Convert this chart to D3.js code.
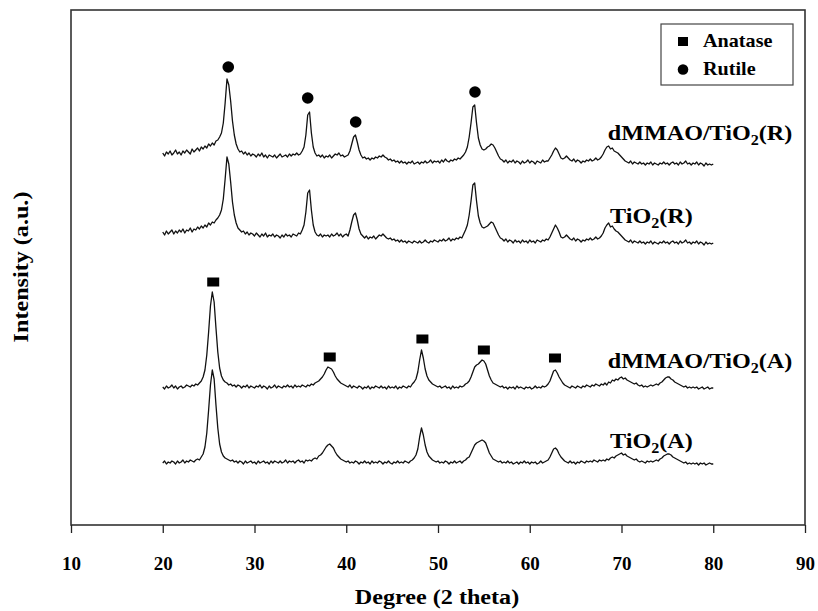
<!DOCTYPE html>
<html><head><meta charset="utf-8">
<script src="https://cdn.jsdelivr.net/npm/d3@7"></script>
<style>
body{margin:0;background:#fff}
svg{display:block}
text{font-family:"Liberation Serif","Times New Roman",serif;font-weight:bold;fill:#000}
</style>
</head><body>
<svg id="chart" width="818" height="611"></svg>
<script>
// ---- data ----
const scanStart = 20;      // 2 theta of first point
const scanStep = 0.2;      // 2 theta step
const xTicks = [10, 20, 30, 40, 50, 60, 70, 80, 90];
const seriesNames = ["TiO2(A)", "dMMAO/TiO2(A)", "TiO2(R)", "dMMAO/TiO2(R)"];
const seriesOffsets = [40, 115, 260, 340];

const tio2A = [
22,24,21,23,22,24,23,21,24,22,
23,25,22,24,23,25,24,23,25,26,
25,28,31,38,52,75,100,115,106,80,
57,41,33,29,27,26,25,24,25,23,
24,22,24,23,21,24,22,23,24,22,
23,21,24,22,23,24,22,23,21,24,
22,24,23,22,24,22,23,25,22,24,
23,24,22,24,25,23,24,22,25,24,
25,24,26,27,26,29,30,32,35,38,
40,41,39,37,33,30,28,26,25,24,
23,24,22,23,22,24,23,21,23,22,
24,22,23,21,24,22,23,22,24,23,
21,23,22,24,22,21,23,22,24,22,
23,22,24,23,22,24,25,27,30,36,
48,57,50,40,33,29,27,25,24,23,
24,22,23,22,24,23,21,23,22,24,
22,23,24,22,24,25,27,28,32,36,
40,42,43,44,45,44,42,37,32,29,
26,25,24,23,24,22,23,22,24,22,
23,21,22,23,21,23,22,24,22,23,
21,23,22,23,21,22,24,22,23,24,
25,28,32,36,37,35,31,28,26,24,
23,22,24,22,23,21,23,22,24,23,
22,24,23,24,23,25,24,23,25,24,
25,24,26,25,27,28,27,29,30,31,
32,30,31,29,28,27,26,25,26,24,
23,24,23,22,24,23,24,23,24,25,
24,26,27,29,30,31,31,30,28,27,
26,25,24,23,22,23,21,22,21,22,
21,22,20,22,21,22,20,21,22,21,
21];

const dmmaoA = [
23,21,24,22,23,25,22,24,21,23,
24,22,23,25,24,23,25,24,26,25,
27,29,33,40,55,78,104,118,108,82,
58,42,34,30,28,27,25,26,24,25,
23,25,24,22,24,23,25,22,24,23,
22,24,23,25,22,24,23,21,24,22,
23,25,22,24,23,22,24,23,25,23,
24,22,25,23,24,23,25,24,23,25,
24,26,25,27,28,29,31,33,36,40,
43,42,41,38,34,31,29,27,26,25,
24,23,25,22,24,23,22,24,23,21,
23,22,24,21,23,22,24,23,22,24,
22,23,21,24,22,23,22,24,21,23,
22,24,23,22,24,23,26,28,31,38,
50,60,52,41,34,30,28,26,25,24,
23,24,22,23,24,22,23,21,24,22,
23,22,24,23,24,26,27,29,33,38,
43,45,46,48,50,49,46,40,34,30,
27,26,25,24,23,24,22,23,21,23,
22,23,21,24,22,23,22,21,23,22,
23,21,22,24,22,23,22,24,23,24,
26,29,34,39,40,37,33,30,27,25,
24,23,22,24,23,22,24,23,22,24,
23,25,24,23,25,24,26,25,24,26,
25,27,25,28,27,30,29,31,30,32,
33,31,32,30,29,28,27,26,27,25,
24,25,23,24,23,24,25,24,25,26,
25,27,28,30,32,33,33,31,30,28,
27,26,25,24,23,24,22,23,22,23,
22,23,21,22,23,21,22,23,21,22,
22];

const tio2R = [
33,30,34,31,33,35,31,34,32,35,
33,36,32,35,34,37,33,36,35,38,
36,39,37,40,38,42,40,43,42,45,
47,50,55,66,86,108,101,83,63,50,
42,37,35,33,34,31,33,30,32,31,
29,32,30,28,31,29,32,28,30,29,
31,28,30,29,27,30,28,31,29,30,
28,31,30,29,32,31,35,40,53,72,
75,55,40,33,30,29,31,28,30,29,
30,28,31,29,30,32,29,31,28,30,
31,29,35,43,50,52,45,36,31,29,
27,29,26,28,27,29,26,28,30,29,
31,29,27,26,27,25,26,24,25,23,
25,23,24,22,24,23,22,24,23,22,
24,22,23,25,23,22,24,23,25,24,
23,25,24,26,24,25,27,24,26,25,
27,26,28,27,31,35,40,50,64,80,
82,64,49,42,38,37,38,39,41,43,
42,38,34,30,27,26,24,26,23,25,
24,22,25,23,24,22,25,23,24,22,
25,23,24,22,25,24,23,25,24,26,
25,28,32,36,40,37,33,28,27,28,
30,28,26,25,27,24,26,25,23,25,
24,26,25,27,25,26,28,26,27,29,
32,37,40,42,38,39,36,34,33,31,
29,27,25,24,23,25,22,24,23,22,
24,22,23,21,23,22,24,21,23,22,
21,23,22,24,22,23,21,23,24,22,
23,21,24,22,23,25,22,23,21,23,
22,24,21,23,22,20,23,21,22,21,
22];

const dmmaoR = [
32,29,33,31,34,30,32,35,31,33,
30,34,32,35,33,31,36,33,35,37,
34,38,36,39,37,41,39,42,40,44,
45,48,52,62,82,106,100,84,64,50,
41,36,33,34,31,33,30,32,29,31,
30,28,31,29,32,28,30,27,30,29,
28,30,27,29,31,28,29,30,28,31,
29,31,30,32,30,31,34,38,50,70,
73,52,38,32,29,30,28,30,27,29,
28,30,27,29,31,30,32,29,30,28,
29,30,34,41,48,50,43,35,30,27,
28,26,27,25,27,26,28,27,29,28,
30,28,27,25,26,24,25,23,24,22,
24,22,23,21,23,22,24,21,22,23,
21,23,22,24,22,23,25,22,24,23,
24,22,25,23,26,24,23,25,24,26,
25,27,26,28,30,33,38,48,62,78,
80,62,47,40,36,35,36,38,39,41,
40,37,33,29,26,25,23,25,22,24,
23,25,22,24,23,21,24,22,23,25,
22,24,23,21,24,23,22,25,23,24,
24,27,30,34,37,35,31,27,26,27,
29,27,25,24,26,23,25,24,22,24,
23,25,24,26,24,25,27,25,26,28,
31,35,38,39,36,37,34,33,32,30,
28,26,24,23,22,24,21,23,22,21,
23,21,22,20,22,21,23,20,22,21,
20,22,21,23,21,22,20,22,23,21,
22,20,23,21,22,24,21,22,20,22,
21,23,20,22,21,19,22,20,21,20,
21];

const seriesValues = [tio2A, dmmaoA, tio2R, dmmaoR];

// phase markers (2 theta, height above the marked pattern's offset)
const anataseTheta = [25.5, 38.2, 48.3, 55.0, 62.75];
const anataseMarkH = [128, 53, 71, 60, 52];
const rutileTheta = [27.14, 35.8, 41.03, 54.03];
const rutileMarkH = [118, 87, 63, 93];
const legendNames = ["Anatase", "Rutile"];

// label anchors (2 theta, height above own offset)
const labelTheta = [68.75, 68.5, 68.75, 68.5];
const labelH = [37, 42, 42, 45];

// ---- chart ----
const svg = d3.select("#chart");
const L = 71, R = 805, T = 10, B = 525;
const x = d3.scaleLinear().domain([10, 90]).range([L, R]);
const y = d3.scaleLinear().domain([0, 515]).range([B, T]);

// traces
const line = (off) => d3.line()
  .x((d, i) => x(scanStart + i * scanStep))
  .y(d => y(d + off));

seriesValues.forEach((vals, k) => {
  svg.append("path")
    .datum(vals)
    .attr("fill", "none")
    .attr("stroke", "#111")
    .attr("stroke-width", 1.3)
    .attr("stroke-linejoin", "round")
    .attr("d", line(seriesOffsets[k]));
});

// frame
svg.append("rect")
  .attr("x", L).attr("y", T).attr("width", R - L).attr("height", B - T)
  .attr("fill", "none").attr("stroke", "#333").attr("stroke-width", 1.6);

// x axis
const ax = svg.append("g")
  .attr("transform", `translate(0,${B})`)
  .call(d3.axisBottom(x).tickValues(xTicks).tickSize(8).tickSizeOuter(0).tickFormat(d3.format("d")));
ax.select(".domain").remove();
ax.selectAll(".tick line").attr("stroke", "#222").attr("stroke-width", 1.3);
ax.selectAll(".tick text")
  .attr("y", 45).attr("dy", "0")
  .style("font-family", '"Liberation Serif",serif').style("font-weight", "bold")
  .style("font-size", "19px").attr("fill", "#000");

// axis titles
svg.append("g").attr("transform", `translate(${(L + R) / 2 - 1},604) scale(1.15,1)`)
  .append("text").attr("text-anchor", "middle").style("font-size", "21px")
  .text("Degree (2 theta)");
svg.append("g").attr("transform", "translate(28,267) rotate(-90) scale(1.15,1)")
  .append("text").attr("text-anchor", "middle").style("font-size", "21px")
  .text("Intensity (a.u.)");

// phase markers
const dA = seriesOffsets[1], dR = seriesOffsets[3];
svg.selectAll(".ana").data(anataseTheta).join("rect")
  .attr("class", "ana")
  .attr("x", d => x(d) - 6).attr("width", 12)
  .attr("y", (d, i) => y(anataseMarkH[i] + dA) - 4.5).attr("height", 9)
  .attr("fill", "#000");
svg.selectAll(".rut").data(rutileTheta).join("circle")
  .attr("class", "rut")
  .attr("cx", d => x(d))
  .attr("cy", (d, i) => y(rutileMarkH[i] + dR))
  .attr("r", 5.8).attr("fill", "#000");

// series labels with subscript
seriesNames.forEach((name, k) => {
  const parts = name.split("2");
  const g = svg.append("g")
    .attr("transform", `translate(${x(labelTheta[k])},${y(labelH[k] + seriesOffsets[k])}) scale(1.15,1)`);
  const t = g.append("text").style("font-size", "21px");
  t.append("tspan").text(parts[0]);
  t.append("tspan").attr("dy", 5).style("font-size", "14px").text("2");
  t.append("tspan").attr("dy", -5).text(parts[1]);
});

// legend
svg.append("rect").attr("x", 661).attr("y", 24).attr("width", 132).attr("height", 61)
  .attr("fill", "#fff").attr("stroke", "#444").attr("stroke-width", 1.2);
svg.append("rect").attr("x", 678).attr("y", 37).attr("width", 10).attr("height", 9).attr("fill", "#000");
svg.append("circle").attr("cx", 683).attr("cy", 69.5).attr("r", 5.3).attr("fill", "#000");
legendNames.forEach((n, i) => {
  svg.append("g").attr("transform", `translate(703,${47 + i * 28}) scale(1.12,1)`)
    .append("text").style("font-size", "18px").text(n);
});
</script>
</body></html>
